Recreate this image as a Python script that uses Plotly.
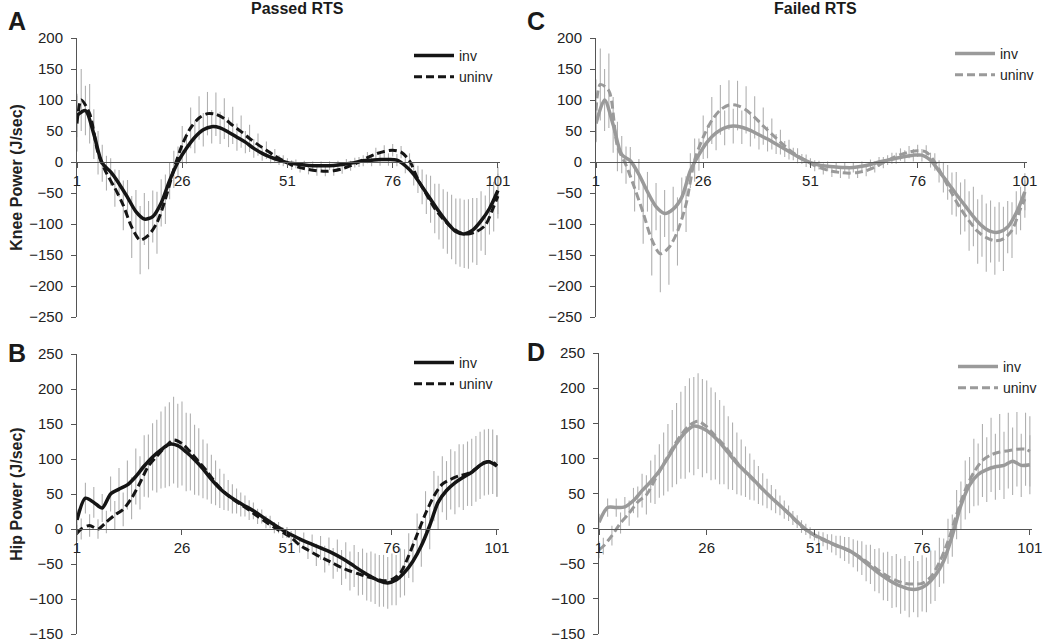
import plotly.graph_objects as go

# ---------------- data ----------------
X_INV = list(range(1, 102, 2))                       # 1,3,...,101
X_UNINV = [1] + list(range(2, 101, 2)) + [101]       # 1,2,4,...,100,101
X_TICKS = [1, 26, 51, 76, 101]
KNEE_TICKS = [-250, -200, -150, -100, -50, 0, 50, 100, 150, 200]
HIP_TICKS = [-150, -100, -50, 0, 50, 100, 150, 200, 250]

knee_passed_inv = [75, 83, 45, -2, -16, -35, -57, -80, -92, -88, -66, -30, 0, 22, 40, 52, 57, 55, 48, 40, 32, 22, 14, 8, 3,
                   -1, -3, -5, -6, -6, -6, -5, -3, -1, 2, 3, 4, 4, 3, -6, -20, -40, -60, -80, -98, -112, -116, -110, -95, -75, -46]
knee_passed_uninv = [62, 100, 78, 15, -18, -42, -70, -105, -126, -118, -98, -60, -12, 28, 55, 71, 78, 77, 70, 59, 49, 38, 28, 19, 10, 2,
                     -5, -9, -12, -14, -15, -14, -11, -6, 0, 7, 13, 17, 19, 16, 2, -28, -52, -75, -92, -105, -114, -116, -112, -102, -72, -55]
knee_passed_inv_sd = [35, 40, 40, 30, 22, 22, 28, 35, 42, 42, 38, 30, 25, 25, 26, 27, 27, 26, 24, 22, 18, 15, 12, 10, 8,
                      7, 7, 7, 7, 7, 7, 7, 8, 8, 9, 10, 10, 10, 10, 12, 18, 28, 38, 45, 50, 53, 55, 52, 48, 42, 38]
knee_passed_uninv_sd = [45, 50, 48, 35, 28, 30, 40, 50, 55, 55, 50, 40, 30, 30, 33, 35, 35, 35, 33, 30, 26, 22, 18, 14, 11, 9,
                        8, 8, 8, 8, 8, 8, 8, 8, 8, 9, 10, 10, 10, 10, 12, 22, 32, 40, 48, 52, 55, 56, 54, 48, 40, 36]

knee_failed_inv = [62, 100, 60, 12, 2, -20, -48, -72, -83, -76, -57, -14, 12, 33, 47, 55, 58, 56, 51, 44, 37, 29, 21, 13, 5,
                   -1, -5, -7, -8, -9, -9, -7, -4, 0, 3, 6, 9, 11, 11, 3, -15, -33, -52, -70, -88, -103, -112, -113, -105, -82, -48]
knee_failed_uninv = [83, 125, 115, 25, -5, -42, -82, -125, -148, -138, -112, -68, 3, 40, 67, 84, 92, 91, 84, 72, 58, 45, 32, 20, 10, 2,
                     -6, -11, -15, -17, -18, -17, -14, -8, -1, 6, 12, 16, 18, 16, 0, -25, -51, -75, -95, -112, -122, -127, -124, -110, -75, -60]
knee_failed_inv_sd = [30, 50, 45, 30, 22, 25, 32, 38, 38, 36, 32, 28, 26, 27, 28, 28, 28, 27, 26, 24, 20, 16, 13, 10, 8,
                      7, 7, 8, 8, 8, 8, 8, 8, 8, 8, 9, 10, 10, 10, 12, 18, 28, 36, 42, 48, 50, 50, 48, 42, 35, 30]
knee_failed_uninv_sd = [50, 58, 60, 40, 30, 38, 50, 58, 62, 60, 55, 45, 35, 35, 38, 40, 40, 40, 38, 34, 30, 25, 20, 16, 12, 10,
                        9, 9, 9, 9, 9, 9, 9, 9, 9, 9, 10, 10, 10, 11, 14, 24, 34, 42, 48, 52, 55, 55, 52, 45, 35, 30]

hip_passed_inv = [13, 44, 38, 30, 50, 57, 63, 75, 90, 103, 113, 121, 119, 110, 99, 86, 71, 58, 48, 40, 33, 26, 18, 10, 2,
                  -5, -11, -17, -22, -27, -32, -38, -45, -53, -61, -68, -74, -77, -73, -62, -46, -24, 5, 38, 55, 66, 74, 81, 91, 96, 90]
hip_passed_uninv = [-6, 0, 5, 0, 10, 20, 28, 44, 66, 90, 104, 117, 127, 122, 110, 96, 82, 66, 53, 43, 35, 27, 18, 10, 2, -5,
                    -12, -23, -30, -37, -43, -49, -55, -60, -64, -68, -71, -74, -72, -63, -38, -8, 22, 47, 64, 71, 76, 79, 86, 95, 96, 90]
hip_passed_inv_sd = [15, 22, 22, 20, 25, 30, 35, 40, 44, 48, 55, 60, 60, 56, 50, 42, 35, 28, 22, 18, 15, 12, 10, 9, 8,
                     8, 10, 12, 14, 17, 20, 23, 26, 30, 33, 36, 37, 37, 36, 33, 30, 30, 34, 38, 42, 45, 47, 48, 48, 47, 44]
hip_passed_uninv_sd = [12, 15, 16, 14, 16, 20, 24, 30, 38, 45, 52, 58, 62, 60, 55, 48, 40, 32, 26, 21, 17, 14, 11, 9, 8, 8,
                       9, 11, 13, 16, 19, 22, 25, 28, 31, 34, 36, 37, 37, 35, 32, 30, 32, 36, 40, 43, 45, 46, 47, 47, 46, 44]

hip_failed_inv = [9, 30, 30, 31, 40, 54, 67, 82, 101, 121, 137, 146, 143, 135, 123, 108, 93, 81, 69, 56, 44, 33, 22, 10, -1,
                  -9, -15, -21, -26, -31, -39, -49, -59, -68, -76, -82, -86, -86, -80, -67, -46, -10, 33, 62, 77, 84, 88, 90, 96, 90, 91]
hip_failed_uninv = [-30, -25, -10, 8, 22, 38, 48, 70, 92, 114, 133, 147, 153, 145, 132, 119, 103, 87, 74, 62, 50, 39, 27, 15, 3, -6,
                    -13, -19, -24, -29, -35, -42, -51, -60, -68, -74, -78, -79, -78, -69, -48, -18, 20, 55, 80, 97, 105, 109, 111, 113, 113, 110]
hip_failed_inv_sd = [12, 13, 13, 14, 18, 24, 30, 38, 48, 58, 66, 70, 70, 66, 60, 52, 44, 36, 29, 23, 18, 14, 11, 9, 8,
                     8, 10, 13, 16, 19, 22, 26, 30, 34, 37, 39, 40, 40, 39, 36, 32, 30, 34, 40, 44, 46, 47, 48, 48, 45, 42]
hip_failed_uninv_sd = [12, 12, 14, 15, 18, 22, 28, 35, 45, 55, 62, 67, 68, 66, 62, 56, 48, 40, 33, 27, 21, 17, 13, 10, 9, 8,
                       9, 11, 14, 17, 20, 24, 28, 32, 35, 38, 39, 40, 40, 38, 35, 32, 35, 42, 48, 52, 53, 54, 54, 53, 52, 50]

# ---------------- figure ----------------
W, H = 1050, 642
FONT = "Arial, Liberation Sans, Helvetica, sans-serif"
BLACK = "#151515"
GRAY = "#9a9a9a"
ERR = "#b0b0b0"
AXC = "#555555"

def px_x(p):
    return p / W

def px_y(p):
    return 1 - p / H

panels = [
    dict(k="", inv=knee_passed_inv, un=knee_passed_uninv, isd=knee_passed_inv_sd, usd=knee_passed_uninv_sd,
         col=BLACK, xd=(77, 500), yd=(38, 317), yr=(-250, 200), yt=KNEE_TICKS, title="Knee Power (J/sec)",
         leg="legend", lp=(409, 40)),
    dict(k="2", inv=knee_failed_inv, un=knee_failed_uninv, isd=knee_failed_inv_sd, usd=knee_failed_uninv_sd,
         col=GRAY, xd=(596, 1027), yd=(38, 317), yr=(-250, 200), yt=KNEE_TICKS, title="",
         leg="legend2", lp=(950, 38)),
    dict(k="3", inv=hip_passed_inv, un=hip_passed_uninv, isd=hip_passed_inv_sd, usd=hip_passed_uninv_sd,
         col=BLACK, xd=(77, 499), yd=(354, 634), yr=(-150, 250), yt=HIP_TICKS, title="Hip Power (J/sec)",
         leg="legend3", lp=(409, 347)),
    dict(k="4", inv=hip_failed_inv, un=hip_failed_uninv, isd=hip_failed_inv_sd, usd=hip_failed_uninv_sd,
         col=GRAY, xd=(599, 1032), yd=(353, 634), yr=(-150, 250), yt=HIP_TICKS, title="",
         leg="legend4", lp=(953, 351)),
]

fig = go.Figure()
layout = dict(
    template="none",
    width=W, height=H, margin=dict(l=0, r=0, t=0, b=0, autoexpand=False),
    paper_bgcolor="white", plot_bgcolor="rgba(0,0,0,0)",
    font=dict(family=FONT, size=15, color="#222222"),
    showlegend=True,
)

for p in panels:
    k = p["k"]
    xa = "x" + k
    ya = "y" + k
    for xs, vals, sd in ((X_INV, p["inv"], p["isd"]), (X_UNINV, p["un"], p["usd"])):
        fig.add_trace(go.Scatter(
            x=xs, y=vals, mode="markers", xaxis=xa, yaxis=ya,
            marker=dict(size=1, color="rgba(0,0,0,0)"),
            error_y=dict(type="data", array=sd, visible=True, color=ERR, thickness=1.1, width=0),
            showlegend=False, hoverinfo="skip"))
    fig.add_trace(go.Scatter(
        x=X_INV, y=p["inv"], mode="lines", name="inv", xaxis=xa, yaxis=ya,
        line=dict(color=p["col"], width=3.5, shape="spline", smoothing=0.8),
        legend=p["leg"]))
    fig.add_trace(go.Scatter(
        x=X_UNINV, y=p["un"], mode="lines", name="uninv", xaxis=xa, yaxis=ya,
        line=dict(color=p["col"], width=3, dash="8px,4px", shape="spline", smoothing=0.8),
        legend=p["leg"]))

    y0, y1 = p["yr"]
    d0, d1 = px_y(p["yd"][1]), px_y(p["yd"][0])
    zero_pos = d0 + (0 - y0) / (y1 - y0) * (d1 - d0)

    layout["xaxis" + k] = dict(
        domain=[px_x(p["xd"][0]), px_x(p["xd"][1])], range=[1, 101.5],
        anchor="free", position=zero_pos, automargin=False,
        tickmode="array", tickvals=X_TICKS, ticktext=[str(t) for t in X_TICKS],
        ticks="outside", ticklen=5, tickcolor=AXC, tickwidth=1,
        showline=True, linecolor=AXC, linewidth=1,
        showgrid=False, zeroline=False, ticklabeloverflow="allow",
        tickfont=dict(family=FONT, size=15, color="#222222"),
    )
    layout["yaxis" + k] = dict(
        domain=[d0, d1], range=[y0, y1], anchor="x" + k, automargin=False,
        tickmode="array", tickvals=p["yt"],
        ticks="outside", ticklen=5, tickcolor=AXC, tickwidth=1,
        showline=True, linecolor=AXC, linewidth=1,
        showgrid=False, zeroline=False, ticklabeloverflow="allow",
        ticklabelstandoff=5,
        tickfont=dict(family=FONT, size=15, color="#222222"),
        title=dict(text="<b>" + p["title"] + "</b>" if p["title"] else "",
                   font=dict(family=FONT, size=16, color="#222222"), standoff=2),
    )
    layout[p["leg"]] = dict(
        x=px_x(p["lp"][0]), y=px_y(p["lp"][1]), xanchor="left", yanchor="top",
        bgcolor="rgba(0,0,0,0)", borderwidth=0,
        font=dict(family=FONT, size=14, color="#222222"),
        tracegroupgap=0, itemwidth=40,
    )

fig.update_layout(**layout)

annos = [
    dict(text="<b>Passed RTS</b>", x=px_x(297), y=px_y(9), size=16),
    dict(text="<b>Failed RTS</b>", x=px_x(815), y=px_y(9), size=16),
    dict(text="<b>A</b>", x=px_x(17), y=px_y(21), size=25),
    dict(text="<b>B</b>", x=px_x(17), y=px_y(353), size=25),
    dict(text="<b>C</b>", x=px_x(536), y=px_y(21), size=25),
    dict(text="<b>D</b>", x=px_x(536), y=px_y(352), size=25),
]
for a in annos:
    fig.add_annotation(text=a["text"], x=a["x"], y=a["y"], xref="paper", yref="paper",
                       xanchor="center", yanchor="middle", showarrow=False,
                       font=dict(family=FONT, size=a["size"], color="#1a1a1a"))

fig.write_html("out.html", config={"displayModeBar": False},
               post_script="document.body.style.margin='0';document.body.style.overflow='hidden';")
